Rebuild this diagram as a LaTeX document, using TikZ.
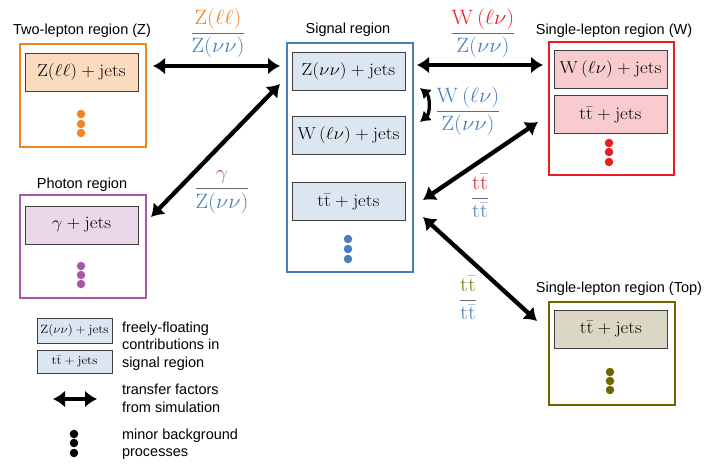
\documentclass[tikz,border=0pt]{standalone}
\usepackage[no-math]{fontspec}
\setsansfont{Liberation Sans}
\usepackage{graphicx}
\usetikzlibrary{arrows.meta}
\definecolor{ocol}{RGB}{240,133,33}
\definecolor{ofill}{RGB}{251,219,190}
\definecolor{bcol}{RGB}{74,126,187}
\definecolor{bfill}{RGB}{220,230,241}
\definecolor{rcol}{RGB}{237,28,36}
\definecolor{rfill}{RGB}{248,203,206}
\definecolor{pcol}{RGB}{168,88,168}
\definecolor{pfill}{RGB}{234,215,234}
\definecolor{gcol}{RGB}{110,103,0}
\definecolor{gfill}{RGB}{218,216,196}
\definecolor{gtxt}{RGB}{128,120,0}
\definecolor{fline}{RGB}{105,105,105}
\newcommand{\mt}[1]{\scalebox{1.1}[1]{$#1$}}
\newcommand{\mf}[1]{\scalebox{1.08}[1]{$\displaystyle #1$}}
\newcommand{\ttb}{\mathrm{t}\bar{\mathrm{t}}}
\tikzset{
  every node/.style={inner sep=0pt, outer sep=0pt},
  region/.style={draw, line width=2.6pt, minimum width=126pt, minimum height=103pt},
  proc/.style={draw=black!75, line width=0.9pt, minimum width=113pt, minimum height=38pt, font=\fontsize{16.5}{18}\selectfont},
  legproc/.style={draw=black!75, line width=0.9pt, minimum width=75pt, fill=bfill, font=\fontsize{12.5}{14}\selectfont},
  rlabel/.style={font=\sffamily\fontsize{14.5}{17.5}\selectfont, align=left},
  frac/.style={font=\fontsize{20}{24}\selectfont, text=fline},
  tf/.style={line width=4.3pt, {Latex[length=12pt,width=17pt]}-{Latex[length=12pt,width=17pt]}},
  tfsmall/.style={line width=3.3pt, {Latex[length=10pt,width=13pt]}-{Latex[length=10pt,width=13pt]}},
  dot/.style={circle, minimum size=8.5pt, inner sep=0pt}
}
\begin{document}
\begin{tikzpicture}[x=1pt,y=-1pt]
\useasboundingbox (0,0) rectangle (711,465);

% Two-lepton region
\node[rlabel] (zlab) at (82,31) {Two-lepton region (Z)};
\node[region, draw=ocol] (zreg) at (83,95.5) {};
\node[proc, fill=ofill] (zll) at (81.5,72.5) {\mt{\mathrm{Z}(\ell\ell)+\mathrm{jets}}};
\foreach \i/\y in {1/114,2/124,3/133} \node[dot, fill=ocol] (zd\i) at (81,\y) {};

% Photon region
\node[rlabel] (glab) at (82,185) {Photon region};
\node[region, draw=pcol] (greg) at (83,246.5) {};
\node[proc, fill=pfill] (gam) at (81.5,225) {\mt{\gamma+\mathrm{jets}}};
\foreach \i/\y in {1/266,2/275,3/284} \node[dot, fill=pcol] (gd\i) at (81,\y) {};

% Signal region
\node[rlabel] (slab) at (348,30) {Signal region};
\node[region, draw=bcol, minimum height=229pt] (sreg) at (350,157.5) {};
\node[proc, fill=bfill] (szn) at (348.5,71) {\mt{\mathrm{Z}(\nu\nu)+\mathrm{jets}}};
\node[proc, fill=bfill] (swl) at (348.5,135.5) {\mt{\mathrm{W}\,(\ell\nu)+\mathrm{jets}}};
\node[proc, fill=bfill] (stt) at (348.5,201.5) {\mt{\ttb+\mathrm{jets}}};
\foreach \i/\y in {1/239,2/249,3/259} \node[dot, fill=bcol] (sd\i) at (348,\y) {};

% Single-lepton region (W)
\node[rlabel] (wlab) at (614,31) {Single-lepton region (W)};
\node[region, draw=rcol, minimum width=125pt, minimum height=133pt] (wreg) at (611.5,108.5) {};
\node[proc, fill=rfill] (wwl) at (610.5,69) {\mt{\mathrm{W}\,(\ell\nu)+\mathrm{jets}}};
\node[proc, fill=rfill] (wtt) at (610.5,114.5) {\mt{\ttb+\mathrm{jets}}};
\foreach \i/\y in {1/143,2/152,3/162} \node[dot, fill=rcol] (wd\i) at (609,\y) {};

% Single-lepton region (Top)
\node[rlabel] (tlab) at (619,289) {Single-lepton region (Top)};
\node[region, draw=gcol] (treg) at (612,353.5) {};
\node[proc, fill=gfill] (ttt) at (611,329) {\mt{\ttb+\mathrm{jets}}};
\foreach \i/\y in {1/372,2/381,3/390} \node[dot, fill=gcol] (td\i) at (610,\y) {};

% Transfer-factor arrows
\coordinate (za) at (153,66);   \coordinate (zb) at (280,66);
\coordinate (ga) at (280,84);   \coordinate (gb) at (151,217);
\coordinate (wa) at (417,65);   \coordinate (wb) at (543,65);
\coordinate (ca) at (420,88);   \coordinate (cb) at (420,122);
\coordinate (ta) at (538,122);  \coordinate (tb) at (423,200);
\coordinate (ua) at (423,217);  \coordinate (ub) at (537,321);
\draw[tf] (za) -- (zb);
\draw[tf] (ga) -- (gb);
\draw[tf] (wa) -- (wb);
\draw[tfsmall] (ca) to[out=-40,in=40] (cb);
\draw[tf] (ta) -- (tb);
\draw[tf] (ua) -- (ub);

% Fraction labels
\node[frac] (fz) at (218,33) {\mf{\frac{\color{ocol}\mathrm{Z}(\ell\ell)}{\color{bcol}\mathrm{Z}(\nu\nu)}}};
\node[frac] (fg) at (222,192) {\mf{\frac{\color{pcol}\gamma}{\color{bcol}\mathrm{Z}(\nu\nu)}}};
\node[frac] (fw) at (483,33) {\mf{\frac{\color{rcol}\mathrm{W}\,(\ell\nu)}{\color{bcol}\mathrm{Z}(\nu\nu)}}};
\node[frac] (fwz) at (468,111) {\mf{\frac{\color{bcol}\mathrm{W}\,(\ell\nu)}{\color{bcol}\mathrm{Z}(\nu\nu)}}};
\node[frac] (ftw) at (480,196) {\mf{\frac{\color{rcol}\ttb}{\color{bcol}\ttb}}};
\node[frac] (ftt) at (468,298) {\mf{\frac{\color{gtxt}\ttb}{\color{bcol}\ttb}}};

% Legend
\node[legproc, minimum height=25pt] (lg1) at (74.5,330.5) {\mt{\mathrm{Z}(\nu\nu)+\mathrm{jets}}};
\node[legproc, minimum height=23pt] (lg2) at (74.5,361.5) {\mt{\ttb+\mathrm{jets}}};
\node[rlabel, anchor=west] (lt1) at (122,346) {freely-floating\\contributions in\\signal region};
\coordinate (la) at (53,399); \coordinate (lb) at (97,399);
\draw[tf] (la) -- (lb);
\node[rlabel, anchor=west] (lt2) at (122,398.5) {transfer factors\\from simulation};
\foreach \i/\y in {1/434,2/443,3/453} \node[dot, fill=black] (ld\i) at (74,\y) {};
\node[rlabel, anchor=west] (lt3) at (122,444) {minor background\\processes};
\end{tikzpicture}
\end{document}
